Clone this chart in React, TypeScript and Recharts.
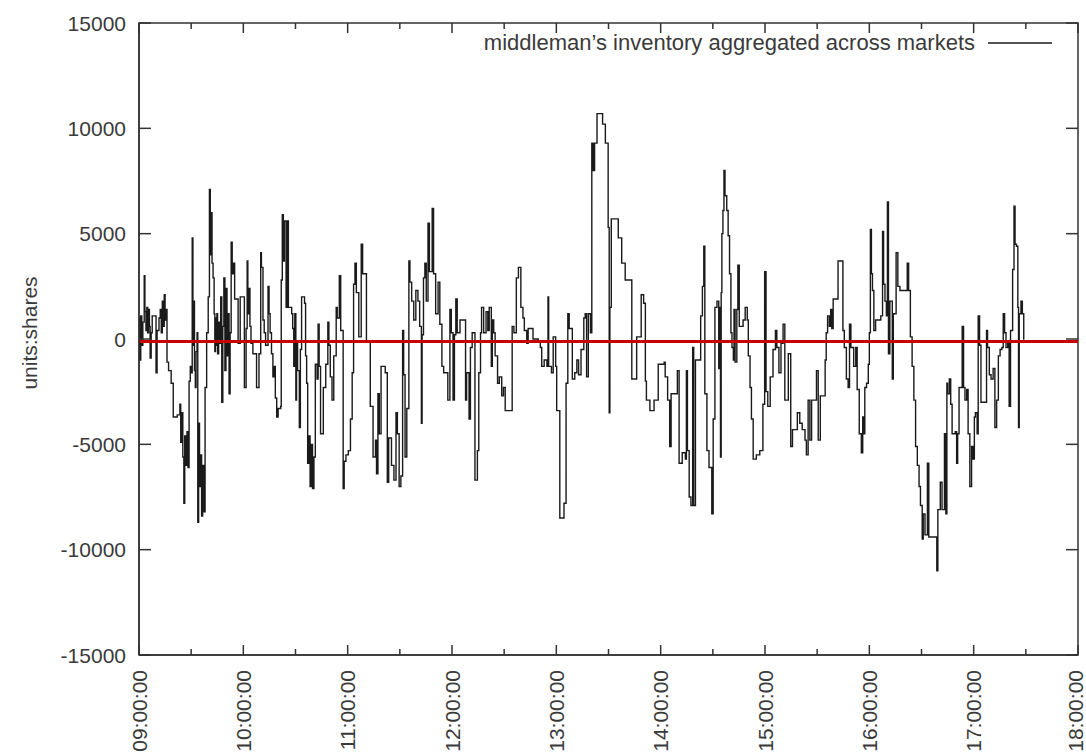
import { Line, LineChart, ReferenceArea, ReferenceLine, XAxis, YAxis } from 'recharts';

// x values are minutes after 09:00, y values are shares held
const hourLabels = [
  '09:00:00', '10:00:00', '11:00:00', '12:00:00', '13:00:00',
  '14:00:00', '15:00:00', '16:00:00', '17:00:00', '18:00:00',
];
const xTicks = [0, 30, 60, 90, 120, 150, 180, 210, 240, 270, 300, 330, 360, 390, 420, 450, 480, 510, 540];
const yTicks = [-15000, -10000, -5000, 0, 5000, 10000, 15000];
const xDomain: [number, number] = [0, 540];
const yDomain: [number, number] = [-15000, 15000];
const meanInventory = -120;
const legendLabel = 'middleman\u2019s inventory aggregated across markets';
const yLabel = 'units:shares';

const inv0900: [number, number][] = [
  [0, 1000], [0.5, -1000], [1.0, 1100], [1.6, -300], [2.2, 800], [3.0, 3000], [3.4, 1300],
  [4.0, 400], [4.5, 1500], [5.0, 300], [5.5, 1400], [6.0, 600], [6.4, -900], [7.0, 300],
  [7.6, 1100], [9.8, -1600], [10.4, 400], [11.5, 1000], [12.2, 1400], [12.8, 300], [13.4, 1800],
  [14.0, 600], [14.5, 2100], [15.0, 900], [15.6, 1400], [16.1, -1100], [17.0, -1500], [18.5, -2100],
  [19.7, -3700], [22.0, -3600], [23.5, -3100], [24.0, -4900], [24.6, -3500], [25.2, -5600],
  [25.8, -7800], [26.3, -4600], [27.0, -6000], [27.6, -4400], [28.2, -6100], [28.8, -2000],
  [29.5, -1300], [30.2, -1600], [30.6, 4800], [31.0, -300], [31.4, 1800], [31.9, -1500],
  [32.4, -2300], [32.8, -600], [33.4, 300], [33.8, -8700], [34.3, -4000], [34.8, -7000],
  [35.4, -5500], [36.0, -8400], [36.6, -6000], [37.2, -8200], [38.0, -2300], [38.9, 300],
  [39.8, 2000], [40.5, 7100], [41.0, 4000], [41.5, 6000], [42.0, 3600], [42.6, 2900], [43.2, 1200],
  [43.6, -600], [44.0, 1000], [44.4, -300], [44.8, 1200], [45.2, -700], [45.8, 800], [46.4, -200],
  [47.0, 2000], [47.6, -3000], [48.2, 600], [48.8, 2900], [49.4, -1500], [50.0, 2400], [50.6, -800],
  [51.2, 1200], [51.8, -2600], [52.4, 300], [53.0, 4600], [53.6, 3100], [54.2, 3600], [55.0, 1900],
  [57.0, -200], [58.2, 2000], [60.6, -2300], [61.6, 500], [62.2, 3700], [62.6, 1200], [63.2, 2400],
  [63.8, 600], [64.4, -200], [65.5, -700], [67.6, -2300], [69.0, -700],
];

const inv1010: [number, number][] = [
  [70.0, 4100], [70.4, 3400], [71.3, 900], [72.0, 300], [72.8, -300], [74.2, 2500], [74.8, 1200],
  [75.4, 300], [76.2, -700], [77.0, -1800], [77.8, -1300], [78.4, -2800], [79.2, -3700],
  [80.0, -3300], [81.5, -3200], [81.8, 2800], [82.4, 5900], [83.0, 3700], [83.6, 5600], [84.6, 1500],
  [85.4, 5600], [85.9, 1500], [87.8, 1200], [88.4, 500], [89.0, -1300], [89.6, 1200], [90.2, -2900],
  [90.6, -200], [91.2, -1500], [92.2, -4200], [92.8, -500], [93.5, 2000], [95.2, 1700], [95.8, -800],
  [96.4, -2100], [97.0, -5900], [97.8, -4600], [98.4, -7000], [99.0, -5000], [99.8, -7100],
  [100.6, -5600], [101.4, -1200], [102.4, -1900], [103.0, 700], [103.6, -1300], [104.4, -4500],
  [106.0, -2300], [107.4, -1200], [108.6, 800], [109.2, -300], [110.0, -1800], [111.0, -2900],
  [112.0, -800], [113.4, 1500], [114.0, 1000], [115.2, 3000], [116.0, 400], [117.4, -7100],
  [118.0, -5800], [119.0, -5500], [120.4, -5300], [121.6, -3800], [122.6, -1600], [123.4, 2600],
  [124.2, 3600], [125.0, 2200], [126.4, 100], [127.8, 4500], [128.6, 3100], [130.8, -100],
  [133.0, -3200], [134.6, -5600],
];

const inv1115: [number, number][] = [
  [136.0, -4800], [136.6, -6400], [137.4, -2600], [138.2, -4500], [139.2, -1300], [141.6, -1600],
  [142.8, -6800], [143.6, -4700], [145.2, -6000], [146.6, -6700], [147.8, -3500], [148.6, -4500],
  [149.6, -7000], [150.6, -6500], [151.6, 400], [152.2, -1700], [153.0, -5600], [154.0, -3300],
  [155.2, 3700], [155.8, 2700], [156.8, 1800], [158.0, 900], [159.2, 2300], [160.4, 1800],
  [161.4, 600], [162.4, -4000], [162.8, 200], [163.6, 2900], [164.4, 3600], [165.2, 1800],
  [166.2, 5500], [167.0, 3200], [168.6, 6200], [169.4, 3100], [170.6, 1200], [172.0, 2700],
  [173.0, 700], [174.2, -1300], [175.2, -1600], [177.6, -2900], [178.8, 1400], [179.6, 300],
  [180.6, -2900], [181.4, 200], [182.2, 1900], [183.0, 300], [184.6, 900], [187.8, -2900],
  [188.4, -1600], [189.8, -3800], [190.6, -400], [191.6, 300], [193.2, -6700], [194.6, -5300],
  [195.4, -1600], [196.4, 300], [197.0, 1500], [198.2, 300], [199.6, 1300], [200.6, 400],
  [201.4, 1500],
];

const inv1222: [number, number][] = [
  [202.6, -1300], [203.2, 900], [204.0, 300], [204.8, -800], [206.2, -2100], [207.2, -1800],
  [208.6, -2700], [209.6, -2300], [210.6, -3400], [214.6, 600], [215.6, 300], [217.0, 2900],
  [218.2, 3400], [219.6, 1500], [220.8, 1000], [221.6, 400], [223.0, -200], [223.8, 500],
  [226.6, 0], [229.6, -100], [230.8, -400], [231.6, -1300], [233.0, -1000], [234.6, -1300],
  [235.2, 2000], [235.6, -1300], [237.2, -1600], [238.2, 100], [239.6, -1300], [240.2, -3400],
  [242.0, -8500], [244.4, -7800], [245.6, -2100], [246.6, 1200], [247.4, 500], [249.2, -1900],
  [250.6, -1600], [251.8, -1000], [252.8, -1700], [254.2, -500], [255.8, 1000], [256.6, 1200],
  [257.4, -1800], [258.4, 1200], [259.6, 300], [260.4, 9300], [261.2, 8000], [262.0, 9300],
  [263.4, 10700],
];

const inv1326: [number, number][] = [
  [266.6, 10200], [268.2, 9300], [269.8, 5300], [270.4, -3500], [270.8, 1500], [271.6, 5700],
  [275.6, 4800], [277.6, 3600], [279.6, 2800], [283.4, -1900], [286.2, 100], [288.8, 2100],
  [290.2, 1700], [291.2, -2000], [291.8, -2900], [293.8, -3400], [296.2, -2900], [298.6, -1200],
  [302.0, -1100], [302.6, -1800], [304.0, -2900], [305.2, -5100], [306.0, -2600], [309.6, -1500],
  [310.6, -5900], [312.4, -5400], [314.2, -5700], [314.8, -1500], [315.4, -5300], [316.4, -7500],
  [317.4, -7900], [318.4, -400], [319.0, -7900], [320.0, -1000], [323.0, 1100], [324.0, 2500],
  [324.8, 4400], [325.4, -2600], [326.6, -5300], [327.8, -6100], [329.4, -8300], [330.2, -3800],
  [331.2, 1500], [332.4, 1800], [333.4, -1400],
];

const inv1433: [number, number][] = [
  [333.8, 1500], [334.4, -5600], [334.8, 2200], [335.2, 5000], [335.8, 6100], [336.4, 8000],
  [337.0, 6800], [338.0, 6100], [338.8, 4900], [339.6, 3100], [340.4, 300], [341.0, -400],
  [341.8, -1000], [342.2, 1400], [342.8, -1100], [343.8, 1400], [344.4, 3500], [345.2, 600],
  [347.4, 900], [348.6, 1500], [349.8, 900], [350.4, -800], [351.4, -2300], [352.2, -3800],
  [353.2, -5700], [355.0, -5500], [357.0, -5300], [358.8, -3100], [359.8, 3200], [360.6, -2500],
  [361.6, -3200], [363.0, -1800], [364.6, -500], [366.0, 400], [366.8, -400], [368.0, -1600],
  [369.2, -200], [370.4, 700], [371.4, -2900], [373.4, -700], [374.8, -5100], [375.8, -4300],
  [378.6, -3500], [380.0, -4000], [381.4, -4300], [383.0, -4800], [383.8, -5500], [384.8, -2900],
  [385.8, -4800], [386.8, -2900], [389.6, -1500], [390.6, -4800], [391.8, -2700], [394.6, -1000],
  [395.2, 300], [396.0, 1100], [397.0, 600], [397.8, 1400], [398.4, 500],
];

const inv1539: [number, number][] = [
  [399.2, 1900], [402.0, 3700], [404.8, 400], [405.6, -400], [406.8, -1900], [407.8, -2300],
  [408.6, 700], [409.4, -400], [411.0, -1300], [412.2, -400], [413.0, -2400], [414.2, -4500],
  [415.4, -5400], [416.2, -3700], [416.8, -4500], [417.4, -2300], [418.4, -2100], [419.4, -1200],
  [420.0, 300], [420.6, 5200], [421.2, 3100], [421.8, 2300], [422.6, 400], [423.6, 900],
  [426.6, 1100], [427.6, 5100], [428.2, 2600], [429.0, 1800], [429.8, 1100], [430.4, 6500],
  [431.0, -700], [431.8, 1800], [433.2, -1900], [433.8, 1200], [435.4, 4100], [436.4, 2500],
  [437.6, 2300], [441.8, 3600], [442.6, 2300], [443.6, 100], [444.6, -1300], [445.6, -2900],
  [446.6, -5100], [447.6, -6000], [448.6, -7000], [449.4, -7900], [450.4, -9500], [451.0, -8300],
  [452.0, -9300], [453.4, -5900], [454.2, -9400], [458.8, -11000], [459.4, -8100], [460.8, -6800],
  [461.8, -8100], [463.2, -4500], [464.0, -8300], [464.6, -2100],
];

const inv1645: [number, number][] = [
  [465.0, -2600], [466.0, -1900], [466.8, -3100], [467.6, -4500], [469.4, -4400], [470.2, -5900],
  [470.8, -4500], [471.6, -2300], [473.4, 600], [474.2, -2300], [475.0, -2900], [476.0, -2400],
  [476.8, -4500], [477.8, -7000], [478.8, -5100], [479.6, -5700], [480.4, -3700], [481.0, -3500],
  [482.0, -4500], [482.6, 1100], [483.4, -300], [484.2, -3000], [487.4, 400], [488.0, -400],
  [489.0, -1700], [490.0, -1900], [491.2, -1400], [492.2, -4200], [493.2, -2900], [494.2, -800],
  [495.2, -500], [496.2, -400], [497.0, 1200], [497.8, 300], [498.6, -400], [499.6, -100],
  [500.4, -3200], [501.2, 400], [502.4, 3300], [503.2, 6300], [503.8, 4500], [504.6, 4400],
  [505.4, 1500], [505.8, -4200], [506.2, 1200], [507.2, 1800], [508.0, 1200], [508.8, 0],
  [509.2, 0],
];

const data = [inv0900, inv1010, inv1115, inv1222, inv1326, inv1433, inv1539, inv1645]
  .flat()
  .map(([t, v]) => ({ t, v }));

const W = 1086;
const H = 754;
const PLOT = { left: 139, right: 1078, top: 23, bottom: 655 };
const AXIS = '#333';
const TEXT = '#3a3a3a';
const FONT = '"Liberation Sans", Arial, sans-serif';
const FS = 21;

function XTick(props: any) {
  const { x, payload } = props;
  const m = payload.value as number;
  const major = m % 60 === 0;
  const len = major ? 10 : 6;
  const ly = PLOT.bottom + 15;
  // keep the last label inside the page
  const lx = Math.min(x, W - 11);
  return (
    <g>
      <line x1={x} x2={x} y1={PLOT.bottom} y2={PLOT.bottom - len} stroke={AXIS} strokeWidth={1.5} />
      <line x1={x} x2={x} y1={PLOT.top} y2={PLOT.top + len} stroke={AXIS} strokeWidth={1.5} />
      {major && (
        <text
          x={lx}
          y={ly}
          transform={`rotate(-90 ${lx} ${ly})`}
          textAnchor="end"
          dominantBaseline="central"
          fill={TEXT}
          fontSize={FS}
          fontFamily={FONT}
        >
          {hourLabels[m / 60]}
        </text>
      )}
    </g>
  );
}

function YTick(props: any) {
  const { y, payload } = props;
  return (
    <g>
      <line x1={PLOT.left} x2={PLOT.left + 12} y1={y} y2={y} stroke={AXIS} strokeWidth={1.5} />
      <line x1={PLOT.right} x2={PLOT.right - 12} y1={y} y2={y} stroke={AXIS} strokeWidth={1.5} />
      <text x={126} y={y} textAnchor="end" dominantBaseline="central" fill={TEXT} fontSize={FS} fontFamily={FONT}>
        {payload.value}
      </text>
    </g>
  );
}

function YTitle() {
  return (
    <text
      x={37}
      y={333}
      transform="rotate(-90 37 333)"
      textAnchor="middle"
      fill={TEXT}
      fontSize={FS}
      fontFamily={FONT}
    >
      {yLabel}
    </text>
  );
}

export default function App() {
  const axisLine = { stroke: AXIS, strokeWidth: 1.5 };
  return (
    <div style={{ position: 'absolute', left: 0, top: 0, width: W, height: H, background: '#fff', fontFamily: FONT }}>
      <LineChart width={W} height={H} data={data} margin={{ top: PLOT.top, right: W - PLOT.right, bottom: 0, left: 0 }}>
        <XAxis
          dataKey="t"
          type="number"
          domain={xDomain}
          ticks={xTicks}
          interval={0}
          height={H - PLOT.bottom}
          tickLine={false}
          axisLine={axisLine}
          tick={(p: any) => <XTick {...p} />}
        />
        <YAxis
          domain={yDomain}
          ticks={yTicks}
          interval={0}
          width={PLOT.left}
          tickLine={false}
          axisLine={axisLine}
          tick={(p: any) => <YTick {...p} />}
          label={<YTitle />}
        />
        <ReferenceArea
          x1={xDomain[0]}
          x2={xDomain[1]}
          y1={yDomain[0]}
          y2={yDomain[1]}
          fill="none"
          fillOpacity={0}
          stroke={AXIS}
          strokeWidth={1.5}
        />
        <Line
          type="stepAfter"
          dataKey="v"
          stroke="#1a1a1a"
          strokeWidth={1.4}
          dot={false}
          activeDot={false}
          isAnimationActive={false}
        />
        <ReferenceLine y={meanInventory} stroke="#c80000" strokeWidth={3} />
      </LineChart>
      <div
        style={{
          position: 'absolute',
          top: 30,
          right: W - 1052,
          display: 'flex',
          alignItems: 'center',
          gap: 13,
          fontSize: 22,
          lineHeight: '26px',
          color: TEXT,
          whiteSpace: 'nowrap',
        }}
      >
        <span>{legendLabel}</span>
        <svg width={64} height={4}>
          <line x1={0} x2={64} y1={2} y2={2} stroke="#1a1a1a" strokeWidth={1.5} />
        </svg>
      </div>
    </div>
  );
}
